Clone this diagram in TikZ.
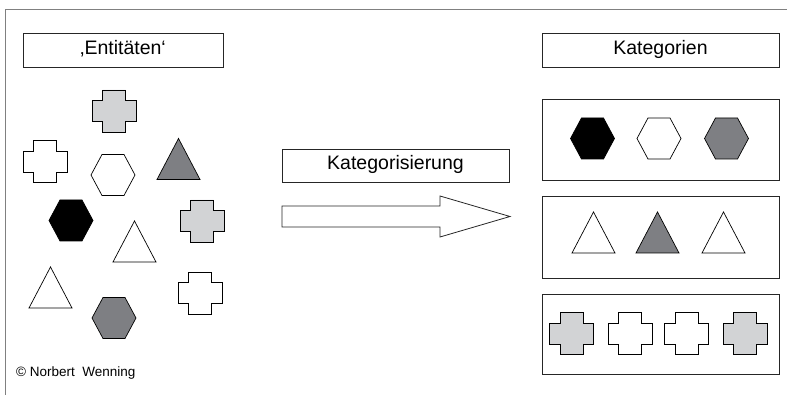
\documentclass[tikz,border=0pt]{standalone}
\usepackage{fontspec}
\setmainfont{Liberation Sans}
\definecolor{lgrey}{HTML}{D2D3D5}
\definecolor{dgrey}{HTML}{7E7F83}
\definecolor{frame}{HTML}{808080}
\tikzset{
  every picture/.style={x=1pt,y=-1pt},
  labelbox/.style={draw=black!85, line width=0.8pt, fill=white, inner sep=0pt, font=\fontsize{19.5}{22}\selectfont, text height=0.716em, text depth=0pt},
  groupbox/.style={draw=black!85, line width=0.8pt},
  shp/.style={draw=black, line width=0.7pt},
  hexa/.pic={\path[pic actions] (-22,0)--(-11,-20.5)--(11,-20.5)--(22,0)--(11,20.5)--(-11,20.5)--cycle;},
  crossp/.pic={\path[pic actions] (-11.5,-21)--(11.5,-21)--(11.5,-10.5)--(22,-10.5)--(22,10.5)--(11.5,10.5)--(11.5,21)--(-11.5,21)--(-11.5,10.5)--(-22,10.5)--(-22,-10.5)--(-11.5,-10.5)--cycle;},
  tri/.pic={\path[pic actions] (-21.5,20.5)--(21.5,20.5)--(0,-20.5)--cycle;}
}
\begin{document}
\begin{tikzpicture}
\useasboundingbox (0,0) rectangle (787,395);
% frame
\draw[frame, line width=0.9pt] (5.5,395) -- (5.5,9) -- (787,9);
% label boxes
\node[labelbox, minimum width=200pt, minimum height=34pt] (ent) at (123,50.5) {‚Entitäten‘};
\node[labelbox, minimum width=237pt, minimum height=34pt] (kat) at (660.5,50.5) {Kategorien};
\node[labelbox, minimum width=227pt, minimum height=33pt] (kgs) at (395.5,165.5) {Kategorisierung};
% arrow
\draw[groupbox, fill=white] (282,206) -- (440,206) -- (440,196) -- (510,216.5) -- (440,237) -- (440,227) -- (282,227) -- cycle;
% category boxes
\node[groupbox, minimum width=237pt, minimum height=81pt, inner sep=0pt] (g1) at (660.5,139.5) {};
\node[groupbox, minimum width=237pt, minimum height=82pt, inner sep=0pt] (g2) at (660.5,237) {};
\node[groupbox, minimum width=237pt, minimum height=80pt, inner sep=0pt] (g3) at (660.5,334) {};
% left entities
\pic[shp, fill=lgrey] at (114,111) {crossp};
\pic[shp, fill=white] at (45,161.5) {crossp};
\pic[shp, fill=white] at (113,175) {hexa};
\pic[shp, fill=dgrey] at (178.5,159) {tri};
\pic[shp, fill=black] at (71,220.5) {hexa};
\pic[shp, fill=lgrey] at (202,221) {crossp};
\pic[shp, fill=white] at (134.5,241.5) {tri};
\pic[shp, fill=white] at (50.5,287.5) {tri};
\pic[shp, fill=dgrey] at (114,318) {hexa};
\pic[shp, fill=white] at (200,293) {crossp};
% right categories
\pic[shp, fill=black] at (592.5,138.5) {hexa};
\pic[shp, fill=white] at (659,138.5) {hexa};
\pic[shp, fill=dgrey] at (726.5,138.5) {hexa};
\pic[shp, fill=white] at (593.5,232.5) {tri};
\pic[shp, fill=dgrey] at (657.5,232.5) {tri};
\pic[shp, fill=white] at (723.5,232.5) {tri};
\pic[shp, fill=lgrey] at (571.5,333.5) {crossp};
\pic[shp, fill=white] at (630,333.5) {crossp};
\pic[shp, fill=white] at (686.5,333.5) {crossp};
\pic[shp, fill=lgrey] at (745,333.5) {crossp};
% copyright
\node[anchor=base west, inner sep=0pt, font=\fontsize{13.5}{16}\selectfont] (copy) at (16,376) {©~Norbert~~Wenning};
\end{tikzpicture}
\end{document}
